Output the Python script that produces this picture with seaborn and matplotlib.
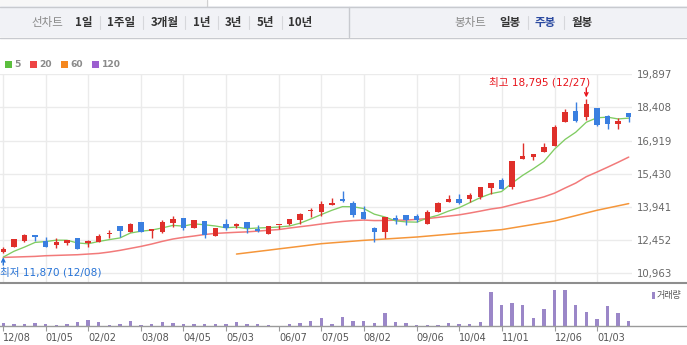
import matplotlib
matplotlib.use("Agg")
import matplotlib.pyplot as plt
from matplotlib.patches import Rectangle
from matplotlib.lines import Line2D
import numpy as np
import pandas as pd
import seaborn as sns

# ---------------- data ----------------
dates = ["2023-12-08", "2023-12-15", "2023-12-22", "2023-12-28", "2024-01-05", "2024-01-12",
         "2024-01-19", "2024-01-26", "2024-02-02", "2024-02-08", "2024-02-16", "2024-02-23",
         "2024-02-29", "2024-03-08", "2024-03-15", "2024-03-22", "2024-03-29", "2024-04-05",
         "2024-04-12", "2024-04-19", "2024-04-26", "2024-05-03", "2024-05-10", "2024-05-17",
         "2024-05-24", "2024-05-31", "2024-06-07", "2024-06-14", "2024-06-21", "2024-06-28",
         "2024-07-05", "2024-07-12", "2024-07-19", "2024-07-26", "2024-08-02", "2024-08-09",
         "2024-08-16", "2024-08-23", "2024-08-30", "2024-09-06", "2024-09-13", "2024-09-20",
         "2024-09-27", "2024-10-04", "2024-10-11", "2024-10-18", "2024-10-25", "2024-11-01",
         "2024-11-08", "2024-11-15", "2024-11-22", "2024-11-29", "2024-12-06", "2024-12-13",
         "2024-12-20", "2024-12-27", "2025-01-03", "2025-01-10", "2025-01-17", "2025-01-24"]

opens = [11930, 12130, 12410, 12680, 12430, 12230, 12310, 12530, 12320, 12380,
         12710, 13090, 12820, 13250, 12880, 12800, 13210, 13430, 13000, 13300,
         12650, 13160, 13070, 13250, 12940, 12730, 13120, 13160, 13340, 13760,
         13720, 14030, 14290, 14110, 13700, 12980, 12800, 13430, 13570, 13520,
         13180, 13720, 14170, 14290, 14300, 14380, 14780, 15160, 14840, 16100,
         16190, 16420, 16670, 17770, 18250, 17990, 18380, 18020, 17680, 18160]
highs = [12140, 12490, 12740, 12680, 12580, 12550, 12470, 12560, 12470, 12710,
         12890, 13090, 13210, 13250, 12910, 13340, 13540, 13430, 13340, 13300,
         13010, 13390, 13210, 13250, 13120, 13070, 13150, 13390, 13660, 13880,
         14200, 14330, 14650, 14230, 13970, 13040, 13480, 13570, 13570, 13610,
         13790, 14180, 14470, 14510, 14560, 14830, 15010, 15250, 16010, 16820,
         16310, 16820, 17620, 18320, 18650, 18795, 18380, 18070, 17950, 18160]
lows = [11870, 12130, 12350, 12410, 12140, 12100, 12230, 12050, 12140, 12380,
        12550, 12590, 12820, 12830, 12550, 12760, 13040, 12910, 13000, 12550,
        12620, 12890, 13000, 12770, 12800, 12730, 12950, 13120, 13190, 13490,
        13540, 14030, 14170, 13490, 13390, 12370, 12550, 13180, 13120, 13270,
        13180, 13720, 14170, 14080, 14150, 14300, 14540, 14750, 14770, 16100,
        16060, 16420, 16670, 17770, 17770, 17860, 17590, 17450, 17450, 17770]
closes = [12040, 12490, 12670, 12610, 12140, 12350, 12470, 12050, 12430, 12650,
          12770, 12850, 13160, 12830, 12910, 13250, 13420, 13000, 13340, 12700,
          12980, 13010, 13160, 12980, 12850, 13070, 13150, 13390, 13610, 13790,
          14060, 14110, 14210, 13580, 13390, 12800, 13480, 13340, 13340, 13340,
          13700, 14110, 14290, 14110, 14470, 14830, 15010, 14750, 16010, 16210,
          16310, 16630, 17530, 18200, 17810, 18560, 17620, 17680, 17800, 17990]

# trading volume (thousand shares)
volume = [80, 50, 50, 80, 50, 20, 50, 110, 170, 110,
          20, 50, 140, 20, 50, 110, 80, 50, 50, 50,
          50, 50, 110, 50, 50, 20, 5, 50, 80, 140,
          230, 50, 270, 140, 140, 80, 380, 110, 80, 20,
          20, 20, 80, 50, 50, 110, 1010, 620, 680, 620,
          230, 500, 1070, 1070, 620, 410, 200, 590, 380, 140]

ma5 = [11690, 11950, 12140, 12350, 12388, 12451, 12448, 12325, 12289, 12391,
       12475, 12550, 12772, 12853, 12904, 13000, 13114, 13081, 13183, 13141,
       13087, 13006, 13039, 12967, 12997, 13015, 13042, 13087, 13213, 13402,
       13600, 13792, 13957, 13951, 13870, 13618, 13492, 13318, 13270, 13261,
       13441, 13567, 13756, 13909, 14134, 14359, 14539, 14632, 15013, 15361,
       15658, 15982, 16537, 16975, 17296, 17746, 17944, 17974, 17893, 17929]
ma20 = [11677, 11692, 11707, 11722, 11752, 11767, 11782, 11797, 11827, 11857,
        11917, 11992, 12082, 12172, 12277, 12397, 12502, 12577, 12637, 12706,
        12753, 12780, 12804, 12823, 12858, 12894, 12928, 12995, 13054, 13111,
        13176, 13239, 13291, 13329, 13353, 13330, 13333, 13350, 13350, 13383,
        13419, 13473, 13530, 13586, 13667, 13755, 13848, 13916, 14036, 14157,
        14269, 14395, 14561, 14792, 15013, 15301, 15508, 15725, 15948, 16180]
ma60 = [None] * 22 + [
        11827, 11885, 11943, 12000, 12060, 12117, 12175, 12234,
        12292, 12330, 12367, 12405, 12442, 12472, 12502, 12532, 12562, 12592,
        12633, 12674, 12715, 12756, 12797, 12838, 12880, 12922, 13000, 13078,
        13156, 13234, 13312, 13432, 13552, 13672, 13792, 13892, 13992, 14092]

price_ticks = [10963, 12452, 13941, 15430, 16919, 18408, 19897]
ma_names = ["5", "20", "60", "120"]
line_tabs = ["1일", "1주일", "3개월", "1년", "3년", "5년", "10년"]
candle_tabs = ["일봉", "주봉", "월봉"]
high_label = "최고 18,795 (12/27)"
low_label = "최저 11,870 (12/08)"
vol_label = "거래량"

# ---------------- style ----------------
RED, BLUE = "#df2f2a", "#3a7fe0"
MA_LINE = ["#80cc62", "#f27a7a", "#f5963a", "#a064d0"]
MA_KEY = ["#5cbf3e", "#ee4444", "#f5871e", "#9c5fd0"]
VOL = "#9b87c8"
KFONT = ["Noto Sans CJK KR", "DejaVu Sans"]

sns.set_theme(style="white")
plt.rcParams["font.family"] = ["DejaVu Sans", "Noto Sans CJK KR"]

W, H = 687, 345
fig = plt.figure(figsize=(W / 100, H / 100), dpi=100)
fig.patch.set_facecolor("white")


def fx(x):
    return x / W


def fy(y):
    return 1 - y / H


# ---------------- top tab bar ----------------
fig.add_artist(Rectangle((0, fy(6)), fx(206), 6 / H, transform=fig.transFigure,
                         facecolor="#f7f7f7", edgecolor="none", zorder=0))
fig.add_artist(Line2D([fx(206.5), fx(206.5)], [fy(0), fy(6)], transform=fig.transFigure,
                      color="#d0d0d0", lw=1))
fig.add_artist(Rectangle((0, fy(37)), 1, 31 / H, transform=fig.transFigure,
                         facecolor="#f1f2f6", edgecolor="none", zorder=0))
for yy in (6.5, 37.5):
    fig.add_artist(Line2D([0, 1], [fy(yy), fy(yy)], transform=fig.transFigure,
                          color="#c8cacf", lw=1))
fig.add_artist(Line2D([fx(348.5), fx(348.5)], [fy(7), fy(37)], transform=fig.transFigure,
                      color="#c8cacf", lw=1))

TY = 22.5
fig.text(fx(47), fy(TY), "선차트", ha="center", va="center", fontsize=8.3,
         color="#8a8a8a", family=KFONT)
tab_x = [84.2, 121.5, 164.3, 201.3, 233.4, 265.5, 300.5]
sep_x = [100, 143, 185, 217.5, 249, 281.6]
for s, x in zip(line_tabs, tab_x):
    fig.text(fx(x), fy(TY), s, ha="center", va="center", fontsize=8.3,
             fontweight="bold", color="#333333", family=KFONT)
for x in sep_x + [527.6, 564]:
    fig.add_artist(Line2D([fx(x), fx(x)], [fy(16), fy(29)], transform=fig.transFigure,
                          color="#d6d7db", lw=0.8))
fig.text(fx(470.4), fy(TY), "봉차트", ha="center", va="center", fontsize=8.3,
         color="#8a8a8a", family=KFONT)
for s, x, c in zip(candle_tabs, [510.3, 545.5, 581.8], ["#333333", "#2b4aa0", "#333333"]):
    fig.text(fx(x), fy(TY), s, ha="center", va="center", fontsize=8.3,
             fontweight="bold", color=c, family=KFONT)

# ---------------- MA legend ----------------
key_x = [5, 30, 61, 92]
for name, col, x in zip(ma_names, MA_KEY, key_x):
    fig.add_artist(Rectangle((fx(x), fy(67.7)), 6.7 / W, 7 / H, transform=fig.transFigure,
                             facecolor=col, edgecolor="none"))
    fig.text(fx(x + 9.5), fy(64.3), name, ha="left", va="center", fontsize=6.6,
             fontweight="bold", color="#8a8a8a")

# ---------------- price panel ----------------
TOP_Y, BOT_Y = 74.0, 283.3
PX = (19897 - 10963) / (273.3 - 74.3)
ymax = 19897 + (74.3 - TOP_Y) * PX
ymin = 10963 - (BOT_Y - 273.3) * PX
XMIN, XMAX = -0.31, 59.31
UNIT_PX = 632 / (XMAX - XMIN)

ax = fig.add_axes([0, fy(BOT_Y), 632 / W, (BOT_Y - TOP_Y) / H])
ax.set_facecolor("white")
idx = np.arange(len(dates))
dt = pd.to_datetime(pd.Series(dates))
tick_idx = [i for i in idx if i == 0 or dt[i].month != dt[i - 1].month]
tick_lab = [dt[i].strftime("%m/%d") for i in tick_idx]

ax.set_xlim(XMIN, XMAX)
ax.set_ylim(ymin, ymax)
ax.set_xticks(tick_idx)
ax.set_yticks(price_ticks)
ax.grid(True, color="#ebebeb", lw=1)
ax.set_axisbelow(True)
ax.tick_params(axis="x", length=0, labelbottom=False, bottom=False)
ax.yaxis.tick_right()
ax.set_yticklabels([f"{v:,}" for v in price_ticks])
ax.tick_params(axis="y", length=0, pad=3.6, labelsize=7.3, labelcolor="#666666", right=False)
for sp in ax.spines.values():
    sp.set_visible(False)

o = np.array(opens, float)
c = np.array(closes, float)
cols = [RED if cc >= oo else BLUE for oo, cc in zip(o, c)]
ax.vlines(idx, lows, highs, colors=cols, lw=1.0, zorder=3)
ax.bar(idx, np.maximum(np.abs(c - o), PX * 1.2), bottom=np.minimum(o, c), width=0.52,
       color=cols, linewidth=0, zorder=4)

ma_df = pd.DataFrame({"i": idx, "ma5": ma5, "ma20": ma20,
                      "ma60": pd.to_numeric(pd.Series(ma60), errors="coerce")})
for key, col, lw in [("ma60", MA_LINE[2], 1.1), ("ma20", MA_LINE[1], 1.1), ("ma5", MA_LINE[0], 0.95)]:
    d = ma_df[["i", key]].dropna()
    sns.lineplot(data=d, x="i", y=key, ax=ax, color=col, lw=lw, zorder=2.5)
ax.set_xlabel("")
ax.set_ylabel("")

# high / low markers
hi_i = int(np.argmax(highs))
lo_i = int(np.argmin(lows))
ax.annotate("", xy=(hi_i, highs[hi_i]), xytext=(0, 11), textcoords="offset pixels",
            arrowprops=dict(arrowstyle="->", color="#e8141c", lw=1, shrinkA=0, shrinkB=1,
                            mutation_scale=6))
ax.annotate(high_label, xy=(hi_i, highs[hi_i]), xytext=(3.5, 17), textcoords="offset pixels",
            ha="right", va="center", fontsize=7.6, color="#e8141c")
ax.annotate("", xy=(lo_i, lows[lo_i]), xytext=(0, -12), textcoords="offset pixels",
            arrowprops=dict(arrowstyle="->", color="#2773d6", lw=1, shrinkA=0, shrinkB=3,
                            mutation_scale=6))
ax.annotate(low_label, xy=(lo_i, lows[lo_i]), xytext=(-3.3, -19.5), textcoords="offset pixels",
            ha="left", va="center", fontsize=7.6, color="#2773d6")

# ---------------- volume panel ----------------
VTOP, VBOT = 283.3, 325.7
vax = fig.add_axes([0, fy(VBOT), 1, (VBOT - VTOP) / H])
vdf = pd.DataFrame({"i": idx, "volume": volume})
sns.barplot(data=vdf, x="i", y="volume", ax=vax, color=VOL, width=0.33, native_scale=True,
            saturation=1, errorbar=None, linewidth=0)
vax.set_xlim(XMIN, XMIN + W / UNIT_PX)
vax.set_ylim(0, 1270)
vax.set_yticks([])
vax.set_xlabel("")
vax.set_ylabel("")
vax.set_xticks(tick_idx)
vax.set_xticklabels(tick_lab)
vax.tick_params(axis="x", bottom=True, length=3.9, width=0.8, color="#9a9a9a", labelsize=7,
                labelcolor="#555555", pad=1.2)
for lbl in vax.get_xticklabels():
    lbl.set_ha("left")
for k in ("left", "right"):
    vax.spines[k].set_visible(False)
vax.spines["top"].set_color("#8e8e8e")
vax.spines["top"].set_linewidth(1.5)
vax.spines["bottom"].set_color("#9a9a9a")
vax.spines["bottom"].set_linewidth(1.0)

fig.add_artist(Rectangle((fx(651.7), fy(299)), 3.6 / W, 7 / H, transform=fig.transFigure,
                         facecolor=VOL, edgecolor="none"))
fig.text(fx(656.5), fy(295.8), vol_label, ha="left", va="center", fontsize=6.5,
         color="#555555", family=KFONT)

fig.savefig("out.png", dpi=100)
